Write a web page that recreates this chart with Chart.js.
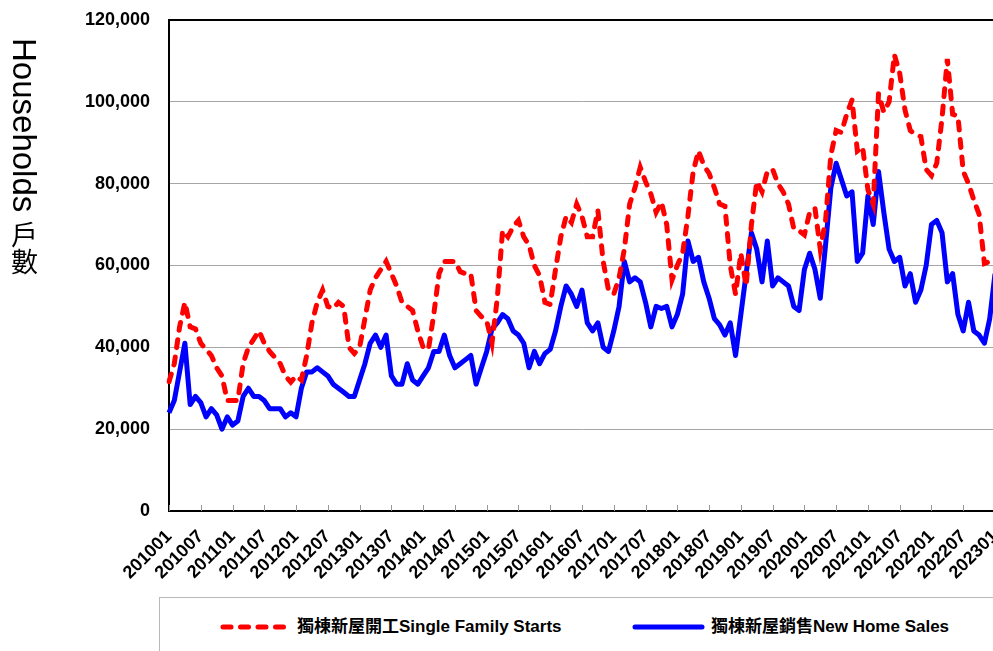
<!DOCTYPE html>
<html>
<head>
<meta charset="utf-8">
<script src="https://cdn.jsdelivr.net/npm/chart.js@4.4.1/dist/chart.umd.min.js"></script>
<style>
  html, body { margin: 0; padding: 0; background: #fff; width: 993px; height: 651px; overflow: hidden; }
  #wrap { position: absolute; left: 0; top: 0; width: 1000px; height: 597px; }
  #ytitle {
    position: absolute; left: 8px; top: 38px;
    writing-mode: vertical-rl; white-space: nowrap;
    font: 33px/33px "Liberation Sans", Arial, sans-serif; color: #000;
  }
  #ytitle .cjk { font-family: "Noto Sans CJK TC", sans-serif; font-size: 27px; }
  #legend {
    position: absolute; left: 159px; top: 597px; width: 900px; height: 80px;
    border: 1px solid #b8b8b8; box-sizing: border-box;
    font: bold 17px/20px "Liberation Sans", Arial, "Noto Sans CJK TC", sans-serif; color: #000;
  }
  #legend svg, #legend span { position: absolute; }
  #legend span { top: 19px; white-space: nowrap; }
</style>
</head>
<body>
<div id="wrap"><canvas id="chart"></canvas></div>
<div id="ytitle">Households <span class="cjk">戶數</span></div>
<div id="legend">
  <svg style="left:60px;top:24px" width="72" height="10">
    <line x1="3" y1="5" x2="64" y2="5" stroke="#ff0000" stroke-width="5" stroke-dasharray="8 9.5" stroke-linecap="round"/>
  </svg>
  <span style="left:137px">獨棟新屋開工Single Family Starts</span>
  <svg style="left:472px;top:24px" width="76" height="10">
    <line x1="3" y1="5" x2="70" y2="5" stroke="#0000ff" stroke-width="5" stroke-linecap="round"/>
  </svg>
  <span style="left:551px">獨棟新屋銷售New Home Sales</span>
</div>
<script>
// ---------- Data (thousands of households, monthly 2010/01 - 2023/01) ----------
const months = [];
for (let y = 2010; y <= 2023; y++) {
  for (let m = 1; m <= 12; m++) {
    if (y === 2023 && m > 1) break;
    months.push(`${y}${String(m).padStart(2, "0")}`);
  }
}

const singleFamilyStarts = [
  31.6, 36, 45, 51, 45, 44.5, 41, 39.5, 38, 35,
  33, 27, 27, 27, 36, 40, 42, 44, 41, 39,
  37.5, 36, 33, 31.5, 33, 32, 38, 46, 51, 54,
  50, 49.5, 51, 50, 40, 38.5, 40, 47, 54, 57,
  59, 61, 58, 55, 51, 50, 49, 44, 40, 39.5,
  48, 58, 61, 61, 61, 58.5, 58, 58, 49, 47.5,
  46.5, 41, 52, 68.5, 67, 69.5, 71, 67, 65, 60,
  57.5, 51, 50.5, 59, 67, 72, 70.5, 75, 72, 67,
  67, 73.5, 61, 54, 53, 57, 64, 75, 79, 84,
  80.5, 77.5, 73, 75.5, 70, 56.5, 60, 63, 72, 83,
  88, 84.5, 82.5, 79, 75, 74.5, 60, 53, 63, 55,
  70, 80.5, 78, 83, 83.5, 80, 78, 75, 69, 68.5,
  67.5, 73, 74, 64, 71, 87, 93, 92.5, 97, 100.5,
  88, 89, 78.5, 75, 102, 97.5, 100, 111.5, 107, 98,
  93, 92, 91.5, 83.5, 82, 85, 96, 110.5, 97, 96.5,
  83, 80, 76, 72.5, 60.5, 61, 61
];

const newHomeSales = [
  24, 27, 34, 41, 26, 28, 26.5, 23, 25, 23.5,
  20, 23, 21, 22, 28, 30, 28, 28, 27, 25,
  25, 25, 23, 24, 23, 30, 34, 34, 35, 34,
  33, 31, 30, 29, 28, 28, 32, 36, 41, 43,
  40, 43, 33, 31, 31, 36, 32, 31, 33, 35,
  39, 39, 43, 38, 35, 36, 37, 38, 31, 35,
  39, 44.5, 46, 48, 47, 44, 43, 41, 35, 39,
  36, 38.5, 39.5, 44, 50, 55, 53, 50, 54, 46,
  44, 46, 40, 39, 44, 50, 61, 56, 57, 56,
  51, 45, 50, 49.5, 50, 45, 48, 53, 66, 61,
  62, 56, 52, 47, 45.5, 43, 46, 38, 48, 58,
  68, 64, 56, 66, 55, 57, 56, 55, 50, 49,
  59, 63, 59, 52, 65, 79, 85, 81, 77, 78,
  61, 63, 77, 70, 83, 73, 64, 61, 62, 55,
  58, 51, 54, 60, 70, 71, 68, 56, 58, 48,
  44, 51, 44, 43, 41, 47, 58
];

const yTicks = [0, 20000, 40000, 60000, 80000, 100000, 120000];
const LABEL_EVERY = 6;

// ---------- Plugins ----------
// small tick marks standing up inside the plot at each labelled month
const innerTicks = {
  id: "innerTicks",
  beforeDatasetsDraw(chart) {
    const { ctx, chartArea, scales: { x } } = chart;
    ctx.save();
    ctx.strokeStyle = "#999";
    ctx.lineWidth = 1;
    months.forEach((m, i) => {
      if (i % LABEL_EVERY) return;
      const px = Math.round(x.getPixelForValue(i)) + 0.5;
      ctx.beginPath();
      ctx.moveTo(px, chartArea.bottom);
      ctx.lineTo(px, chartArea.bottom - 6);
      ctx.stroke();
    });
    ctx.restore();
  },
};

// ---------- Chart ----------
Chart.defaults.font.family = '"Liberation Sans", Arial, sans-serif';
Chart.defaults.color = "#000";

new Chart(document.getElementById("chart"), {
  type: "line",
  data: {
    labels: months,
    datasets: [
      {
        label: "獨棟新屋開工Single Family Starts",
        data: singleFamilyStarts.map((v) => v * 1000),
        borderColor: "#ff0000",
        borderWidth: 5,
        borderDash: [8, 9.5],
        borderCapStyle: "round",
        pointRadius: 0,
        tension: 0,
        fill: false,
      },
      {
        label: "獨棟新屋銷售New Home Sales",
        data: newHomeSales.map((v) => v * 1000),
        borderColor: "#0000ff",
        borderWidth: 5,
        borderJoinStyle: "round",
        pointRadius: 0,
        tension: 0,
        fill: false,
      },
    ],
  },
  options: {
    responsive: true,
    maintainAspectRatio: false,
    animation: false,
    devicePixelRatio: 1,
    layout: { autoPadding: false, padding: { left: 0, top: 20, right: 5, bottom: 0 } },
    plugins: { legend: { display: false }, tooltip: { enabled: false } },
    scales: {
      x: {
        type: "category",
        offset: false,
        grid: { display: false, drawTicks: false },
        border: { display: true, color: "#000", width: 2 },
        ticks: {
          autoSkip: false,
          minRotation: 45,
          maxRotation: 45,
          padding: 15,
          color: "#000",
          font: { size: 18, weight: "bold" },
          callback: (v, i) => (i % LABEL_EVERY === 0 ? months[i] : ""),
        },
        afterFit: (s) => {
          s.height = 86;
          s.paddingLeft = 0;
          s.paddingRight = 0;
        },
      },
      y: {
        min: yTicks[0],
        max: yTicks[yTicks.length - 1],
        afterBuildTicks: (s) => { s.ticks = yTicks.map((v) => ({ value: v })); },
        ticks: {
          padding: 19,
          color: "#000",
          font: { size: 18, weight: "bold" },
          callback: (v) => Number(v).toLocaleString("en-US"),
        },
        grid: {
          drawTicks: false,
          color: (c) => (c.tick && c.tick.value === 120000 ? "#000" : "#a6a6a6"),
          lineWidth: (c) => (c.tick && c.tick.value === 120000 ? 2 : 1),
        },
        border: { color: "#000", width: 2 },
        afterFit: (s) => {
          s.width = 169;
          s.paddingTop = 0;
          s.paddingBottom = 0;
        },
      },
    },
  },
  plugins: [innerTicks],
});
</script>
</body>
</html>
